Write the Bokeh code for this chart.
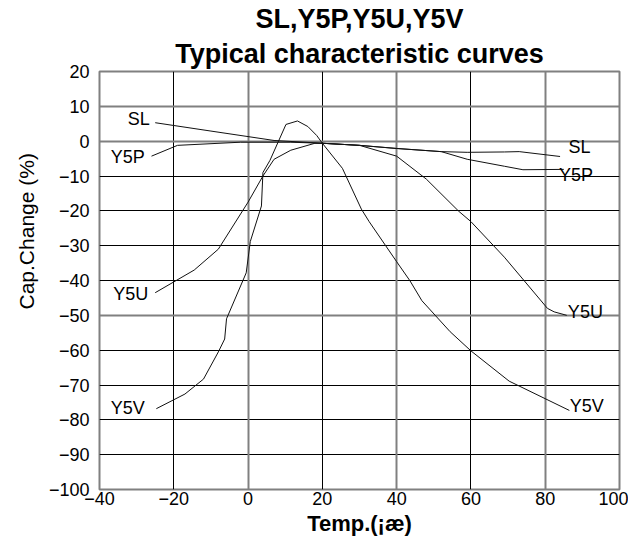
from bokeh.plotting import figure
from bokeh.models import Range1d, FixedTicker, Grid, Title
from bokeh.embed import file_html
from bokeh.resources import INLINE
from bokeh.core.properties import value

# ---- data ----
sl_x = [-25, -10, 7, 20, 30, 40, 52, 59, 69, 73, 84]
sl_y = [5.3, 2.9, 0.2, -0.6, -1.2, -2.1, -3.0, -3.2, -3.1, -3.0, -4.4]

y5p_x = [-26, -19, -2, 11.5, 20, 30, 40, 52, 59, 69, 74, 85]
y5p_y = [-4.3, -1.2, -0.3, -0.3, -0.6, -1.2, -2.1, -3.0, -5.2, -7.2, -8.2, -8.1]

y5u_x = [-25, -14.5, -8, 0, 4, 7, 11.5, 18, 20, 30, 40, 48, 56.7, 60, 69, 80.6, 82.4, 85.8]
y5u_y = [-43.5, -37, -31, -17.5, -10, -5.2, -2.6, -0.6, -0.6, -1.2, -4.3, -10.9, -20.1, -23.1, -33.3, -48, -49, -50]

y5v_x = [-24.7, -17, -12, -8, -6.3, -5.8, -0.5, 0.6, 3.6, 4.0, 5.9, 10.2, 13.3, 16.1, 18.5, 20,
         25.4, 30.5, 32.6, 40, 43.6, 46.8, 54.4, 60, 70.3, 86.5]
y5v_y = [-76.8, -72.6, -68.3, -60.5, -56.8, -51, -37.8, -28.8, -18.6, -9, -5.5, 4.8, 5.8, 4.2, 1.6, -0.6,
         -7.8, -19.5, -23.1, -34.6, -40.1, -45.8, -54.7, -60.2, -68.9, -77.3]

left_labels = ["SL", "Y5P", "Y5U", "Y5V"]
left_lx = [-26.5, -27.8, -26.9, -27.8]
left_ly = [6.3, -4.6, -43.8, -76.5]

right_labels = ["SL", "Y5P", "Y5U", "Y5V"]
right_lx = [86.3, 83.7, 86.1, 86.6]
right_ly = [-1.7, -9.8, -49, -76]

x_ticks = [-40, -20, 0, 20, 40, 60, 80, 100]
y_ticks = [20, 10, 0, -10, -20, -30, -40, -50, -60, -70, -80, -90, -100]
x_grid_dark = [-20, 20, 60]
x_grid_gray = [0, 40, 80]
y_grid_dark = [-10, -20, -30, -40, -60, -70, -80, -90]
y_grid_gray = [10, 0, -50]

title_line1 = "SL,Y5P,Y5U,Y5V"
title_line2 = "Typical characteristic curves"
x_label = "Temp.(¡æ)"
y_label = "Cap.Change (%)"

FONT = "Liberation Sans"

p = figure(width=628, height=539, x_range=Range1d(-40, 100), y_range=Range1d(-100, 20),
           output_backend="svg", toolbar_location=None, title=None,
           min_border_left=99, min_border_right=9, min_border_top=71, min_border_bottom=50)

t2 = Title(text=title_line2, align="center", text_font=FONT, text_font_size="27px",
           text_font_style="bold", text_color="black", standoff=6, offset=0)
t1 = Title(text=title_line1, align="center", text_font=FONT, text_font_size="27px",
           text_font_style="bold", text_color="black", standoff=0, offset=0)
p.add_layout(t2, "above")
p.add_layout(t1, "above")

for ax in (p.xaxis[0], p.yaxis[0]):
    ax.axis_line_color = None
    ax.major_tick_out = 0
    ax.major_tick_in = 0
    ax.minor_tick_line_color = None
    ax.major_label_text_font = FONT
    ax.major_label_text_font_size = "18px"
    ax.major_label_text_color = "black"
    ax.axis_label_text_font = FONT
    ax.axis_label_text_color = "black"

p.xaxis.ticker = FixedTicker(ticks=x_ticks)
p.yaxis.ticker = FixedTicker(ticks=y_ticks)
p.xaxis.axis_label = x_label
p.xaxis.axis_label_text_font_size = "22px"
p.xaxis.axis_label_text_font_style = "bold"
p.xaxis.major_label_standoff = 2
p.xaxis.axis_label_standoff = 3
p.yaxis.major_label_standoff = 10

# y-axis caption as a left-side title (it sits above the centre in the reference)
ytitle = Title(text=y_label, align="left", offset=180, standoff=15, text_font=FONT,
               text_font_size="21px", text_font_style="normal", text_color="black")
p.add_layout(ytitle, "left")

p.xgrid.ticker = FixedTicker(ticks=x_grid_dark)
p.xgrid.grid_line_color = "black"
p.xgrid.grid_line_width = 1
p.ygrid.ticker = FixedTicker(ticks=y_grid_dark)
p.ygrid.grid_line_color = "black"
p.ygrid.grid_line_width = 1
p.add_layout(Grid(dimension=0, ticker=FixedTicker(ticks=x_grid_gray),
                  grid_line_color="#808080", grid_line_width=2))
p.add_layout(Grid(dimension=1, ticker=FixedTicker(ticks=y_grid_gray),
                  grid_line_color="#808080", grid_line_width=2))

p.outline_line_color = "#808080"
p.outline_line_width = 2
p.background_fill_color = "white"
p.border_fill_color = "white"

for xs, ys in ((sl_x, sl_y), (y5p_x, y5p_y), (y5u_x, y5u_y), (y5v_x, y5v_y)):
    p.line(xs, ys, line_color="#111111", line_width=1)

p.text(x=left_lx, y=left_ly, text=left_labels, text_align="right", text_baseline="middle",
       text_font=value(FONT), text_font_size="18px", text_color="black")
p.text(x=right_lx, y=right_ly, text=right_labels, text_align="left", text_baseline="middle",
       text_font=value(FONT), text_font_size="18px", text_color="black")

open("out.html", "w").write(file_html(p, INLINE))
